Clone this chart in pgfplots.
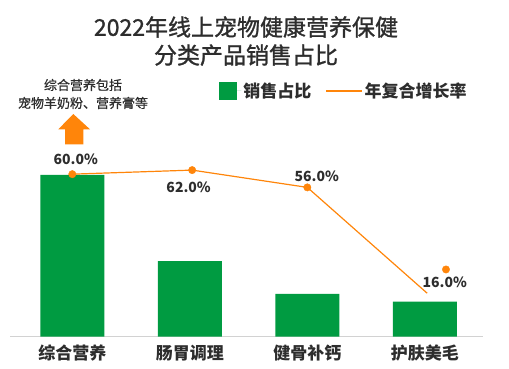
\documentclass[border=0pt]{standalone}
\usepackage{fontspec}
\setmainfont{Noto Sans CJK SC}
\newfontface\medfont{Noto Sans CJK SC}[FakeBold=1.2]
\newfontface\lightmed{Noto Sans CJK SC}[FakeBold=0.6]
\usepackage{pgfplots}
\pgfplotsset{compat=1.18}
\definecolor{bargreen}{RGB}{0,155,65}
\definecolor{lineorange}{RGB}{255,133,10}
\definecolor{txt}{RGB}{45,45,45}
\begin{document}
\begin{tikzpicture}
\useasboundingbox (0pt,0pt) rectangle (509pt,369pt);
\begin{axis}[
  at={(10pt,32.3pt)}, anchor=south west,
  scale only axis, width=473pt, height=270pt,
  xmin=-0.53, xmax=3.495, ymin=0, ymax=100,
  clip=false,
  axis x line=bottom, axis y line=none,
  x axis line style={draw=gray!35, line width=1pt, -},
  xtick={0,1,2,3},
  xticklabels={综合营养,肠胃调理,健骨补钙,护肤美毛},
  major tick length=0pt,
  xticklabel style={font=\fontsize{17}{20}\selectfont\bfseries, text=txt, yshift=-5pt},
  legend style={at={(0.436,0.91)}, anchor=west, draw=none, fill=none,
    legend columns=2, font=\fontsize{17}{20}\selectfont\bfseries, text=txt,
    /tikz/every even column/.append style={column sep=12pt},
    legend cell align=left},
]
\addplot[ybar, bar width=64pt, fill=bargreen, draw=none,
  legend image code/.code={\fill[bargreen] (0pt,-9pt) rectangle (18pt,9pt);\path (0pt,0pt) -- (22pt,0pt);}]
  coordinates {(0,59.9) (1,28.0) (2,15.9) (3,13.0)};
\addlegendentry{销售占比}
\addplot[lineorange, line width=1.2pt, no marks,
  legend image code/.code={\draw[lineorange, line width=1.2pt] (0pt,0pt) -- (32pt,0pt);\path (0pt,0pt) -- (36pt,0pt);}]
  coordinates {(0,60.2) (1.02,61.7) (2,55.3) (3.02,16.1)};
\addlegendentry{年复合增长率}
\addplot[only marks, mark=*, mark size=3.7pt, color=lineorange, forget plot]
  coordinates {(0,60.2) (1.02,61.7) (2,55.3) (3.18,24.9)};
\node[font=\fontsize{14}{16}\selectfont\bfseries, text=txt] at (axis cs:0.03,65.8) {60.0\%};
\node[font=\fontsize{14}{16}\selectfont\bfseries, text=txt] at (axis cs:0.99,55.4) {62.0\%};
\node[font=\fontsize{14}{16}\selectfont\bfseries, text=txt] at (axis cs:2.08,59.3) {56.0\%};
\node[font=\fontsize{14}{16}\selectfont\bfseries, text=txt] at (axis cs:3.17,20) {16.0\%};
\end{axis}
\node[font=\fontsize{23}{28}\selectfont\medfont, text=txt, align=center] at (246pt,328pt) {2022年线上宠物健康营养保健\\分类产品销售占比};
\node[font=\fontsize{13}{18}\selectfont\lightmed, text=txt, align=center] at (83pt,275pt) {综合营养包括\\宠物羊奶粉、营养膏等};
\fill[lineorange] (73.3pt,255pt) -- (90pt,239.7pt) -- (83.3pt,239.7pt) -- (83.3pt,224.7pt) -- (65pt,224.7pt) -- (65pt,239.7pt) -- (58.3pt,239.7pt) -- cycle;
\end{tikzpicture}
\end{document}
